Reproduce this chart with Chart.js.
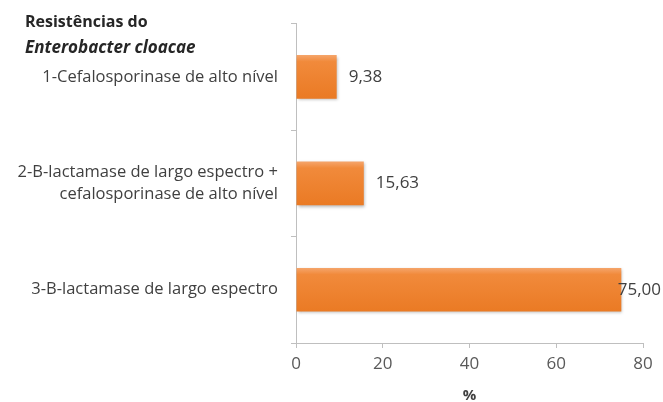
<!DOCTYPE html>
<html>
<head>
<meta charset="utf-8">
<script src="https://cdn.jsdelivr.net/npm/chart.js@4/dist/chart.umd.min.js"></script>
<style>
  html, body { margin: 0; padding: 0; background: #fff; }
  #wrap { width: 663px; height: 402px; }
</style>
</head>
<body>
<div id="wrap"><canvas id="c" width="663" height="402"></canvas></div>
<script>
// Resistance types of Enterobacter cloacae (%)
const categories = [
  "1-Cefalosporinase de alto nível",
  ["2-B-lactamase de largo espectro +", "cefalosporinase de alto nível"],
  "3-B-lactamase de largo espectro"
];
const percentages = [9.38, 15.63, 75.00];
const xTicks = [0, 20, 40, 60, 80];
const titleLines = ["Resistências do", "Enterobacter cloacae"];
const xAxisTitle = "%";

const FONT = "'Open Sans', 'DejaVu Sans', sans-serif";

// Orange bars with a light top edge shading and a soft shadow
const barShading = {
  id: 'barShading',
  beforeDatasetsDraw(chart) {
    const ctx = chart.ctx;
    chart.getDatasetMeta(0).data.forEach(bar => {
      const top = bar.y - bar.height / 2, bottom = bar.y + bar.height / 2;
      const g = ctx.createLinearGradient(0, top, 0, bottom);
      g.addColorStop(0, '#f5a56b');
      g.addColorStop(0.15, '#f18a3b');
      g.addColorStop(1, '#ea7a24');
      bar.options = Object.assign({}, bar.options, { backgroundColor: g });
    });
    ctx.save();
    ctx.shadowColor = 'rgba(0,0,0,0.28)';
    ctx.shadowBlur = 3;
    ctx.shadowOffsetX = 1;
    ctx.shadowOffsetY = 1.5;
  },
  afterDatasetsDraw(chart) {
    chart.ctx.restore();
  }
};

// Value labels to the right of each bar, kept inside the canvas
const valueLabels = {
  id: 'valueLabels',
  afterDatasetsDraw(chart) {
    const ctx = chart.ctx;
    ctx.save();
    ctx.font = "17px " + FONT;
    ctx.fillStyle = '#404040';
    ctx.textBaseline = 'middle';
    ctx.textAlign = 'left';
    chart.getDatasetMeta(0).data.forEach((bar, i) => {
      const txt = percentages[i].toFixed(2).replace('.', ',');
      const w = ctx.measureText(txt).width;
      let x = bar.x + 12;
      x = Math.min(x, chart.width - w - 2);
      ctx.fillText(txt, x, bar.y);
    });
    ctx.restore();
  }
};

// Two-line heading at the top left, second line in italics
const heading = {
  id: 'heading',
  afterDraw(chart) {
    const ctx = chart.ctx;
    ctx.save();
    ctx.fillStyle = '#262626';
    ctx.textBaseline = 'middle';
    ctx.textAlign = 'left';
    ctx.font = "bold 16px " + FONT;
    ctx.fillText(titleLines[0], 25, 22);
    ctx.font = "italic bold 17px " + FONT;
    ctx.fillText(titleLines[1], 25, 48);
    ctx.restore();
  }
};

new Chart(document.getElementById('c'), {
  type: 'bar',
  data: {
    labels: categories,
    datasets: [{
      data: percentages,
      backgroundColor: '#f0852f',
      borderWidth: 0,
      barPercentage: 0.41,
      categoryPercentage: 1.0
    }]
  },
  options: {
    indexAxis: 'y',
    responsive: false,
    animation: false,
    layout: { padding: { top: 23, right: 20, left: 0, bottom: 0 } },
    plugins: {
      legend: { display: false },
      tooltip: { enabled: false }
    },
    scales: {
      x: {
        min: 0,
        max: 80,
        afterBuildTicks(scale) { scale.ticks = xTicks.map(v => ({ value: v })); },
        afterFit(scale) { scale.height = 59; },
        border: { display: true, color: '#bfbfbf', width: 1 },
        grid: { display: true, drawOnChartArea: false, drawTicks: true, tickLength: 5, color: '#bfbfbf' },
        ticks: { color: '#595959', font: { family: FONT, size: 17 }, padding: 6 },
        title: {
          display: true,
          text: xAxisTitle,
          color: '#404040',
          font: { family: FONT, size: 15, weight: 'bold' },
          padding: { top: 4, bottom: -3 }
        }
      },
      y: {
        afterFit(scale) { scale.width = 296; },
        border: { display: true, color: '#bfbfbf', width: 1 },
        grid: { display: true, offset: true, drawOnChartArea: false, drawTicks: true, tickLength: 5, color: '#bfbfbf' },
        ticks: { color: '#404040', font: { family: FONT, size: 16.5, lineHeight: 1.3 }, padding: 13 }
      }
    }
  },
  plugins: [barShading, valueLabels, heading]
});
</script>
</body>
</html>
